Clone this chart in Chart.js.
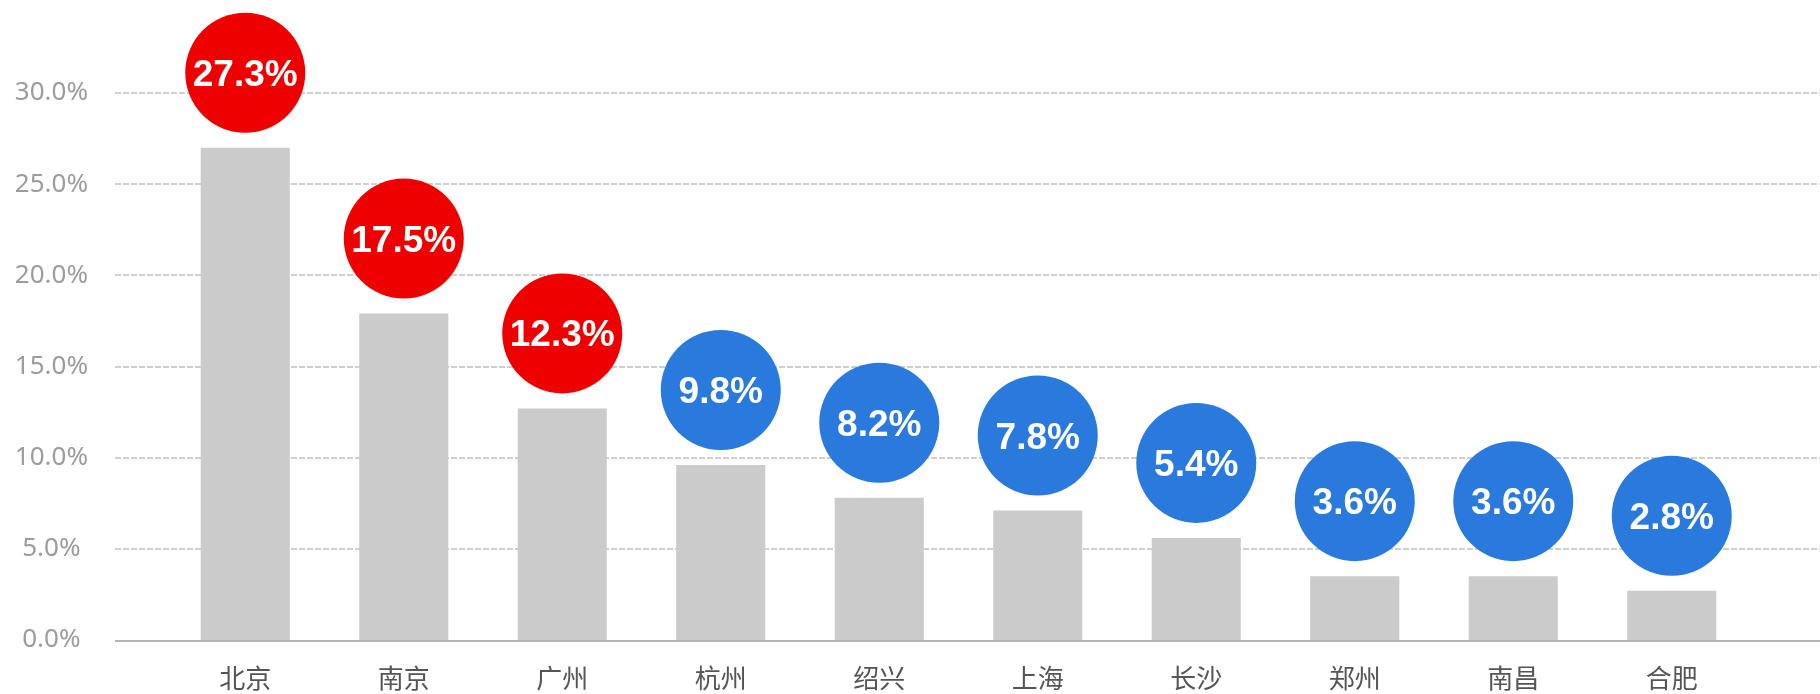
<!DOCTYPE html>
<html>
<head>
<meta charset="utf-8">
<script src="https://cdn.jsdelivr.net/npm/chart.js@4/dist/chart.umd.min.js"></script>
<style>
  html, body { margin: 0; padding: 0; background: #ffffff; }
  #wrap { width: 1820px; height: 694px; }
</style>
</head>
<body>
<div id="wrap"><canvas id="chartCidades" width="1820" height="694"></canvas></div>
<script>
// categorias e valores
var cidades = ['北京', '南京', '广州', '杭州', '绍兴', '上海', '长沙', '郑州', '南昌', '合肥'];
var barras = [27.0, 17.9, 12.7, 9.6, 7.8, 7.1, 5.6, 3.5, 3.5, 2.7]; // altura das barras (%)
var rotulos = ['27.3%', '17.5%', '12.3%', '9.8%', '8.2%', '7.8%', '5.4%', '3.6%', '3.6%', '2.8%'];
var destaque = [true, true, true, false, false, false, false, false, false, false]; // círculo vermelho
var ticksY = [0, 5, 10, 15, 20, 25, 30];

var ctx = document.getElementById('chartCidades').getContext('2d');

// linhas de grade tracejadas + eixo + círculos com rótulo
var desenhoExtra = {
    id: 'desenhoExtra',
    beforeDatasetsDraw: function (chart) {
        var c = chart.ctx, y = chart.scales.y;
        c.save();
        c.strokeStyle = '#cfcfcf';
        c.lineWidth = 2;
        c.setLineDash([6, 2]);
        ticksY.forEach(function (t) {
            if (t === 0) return;
            var py = Math.round(y.getPixelForValue(t));
            c.beginPath();
            c.moveTo(115, py);
            c.lineTo(chart.width, py);
            c.stroke();
        });
        c.restore();
    },
    afterDatasetsDraw: function (chart) {
        var c = chart.ctx, y = chart.scales.y;
        c.save();
        // eixo horizontal
        c.strokeStyle = '#b4b4b4';
        c.lineWidth = 2;
        var py0 = y.getPixelForValue(0) + 1;
        c.beginPath();
        c.moveTo(115, py0);
        c.lineTo(chart.width, py0);
        c.stroke();

        var meta = chart.getDatasetMeta(0);
        meta.data.forEach(function (bar, i) {
            var cx = bar.x, cy = bar.y - 75;
            c.beginPath();
            c.arc(cx, cy, 60, 0, Math.PI * 2);
            c.fillStyle = destaque[i] ? '#ee0000' : '#2a7ade';
            c.fill();
            c.fillStyle = '#ffffff';
            c.font = 'bold 37px "Liberation Sans", Arial, sans-serif';
            c.textAlign = 'center';
            c.textBaseline = 'alphabetic';
            c.fillText(rotulos[i], cx, cy + 13);
        });
        c.restore();
    }
};

var data = {
    labels: cidades,
    datasets: [{
        data: barras,
        backgroundColor: '#cbcbcb',
        borderWidth: 0,
        barPercentage: 0.562,
        categoryPercentage: 1.0
    }]
};

var options = {
    responsive: false,
    animation: false,
    layout: { padding: { left: 0, right: 69, top: 93, bottom: 0 } },
    plugins: { legend: { display: false }, tooltip: { enabled: false } },
    scales: {
        x: {
            grid: { display: false, drawTicks: false },
            border: { display: false },
            ticks: {
                color: '#555555',
                padding: 23,
                font: { family: '"Noto Sans CJK SC", sans-serif', size: 26 }
            },
            afterFit: function (s) { s.height = 54; }
        },
        y: {
            min: 0,
            max: 30,
            grid: { display: false, drawTicks: false },
            border: { display: false },
            afterBuildTicks: function (s) { s.ticks = ticksY.map(function (v) { return { value: v }; }); },
            ticks: {
                color: '#9c9c9c',
                padding: 78,
                crossAlign: 'center',
                font: { family: '"Noto Sans", "Noto Sans CJK SC", sans-serif', size: 26 },
                callback: function (v) { return v.toFixed(1) + '%'; }
            },
            afterFit: function (s) {
                s.width = 166;
                s.paddingTop = 0;
                s.paddingBottom = 0;
            }
        }
    }
};

var myChart = new Chart(ctx, {
    type: 'bar',
    data: data,
    options: options,
    plugins: [desenhoExtra]
});
</script>
</body>
</html>
